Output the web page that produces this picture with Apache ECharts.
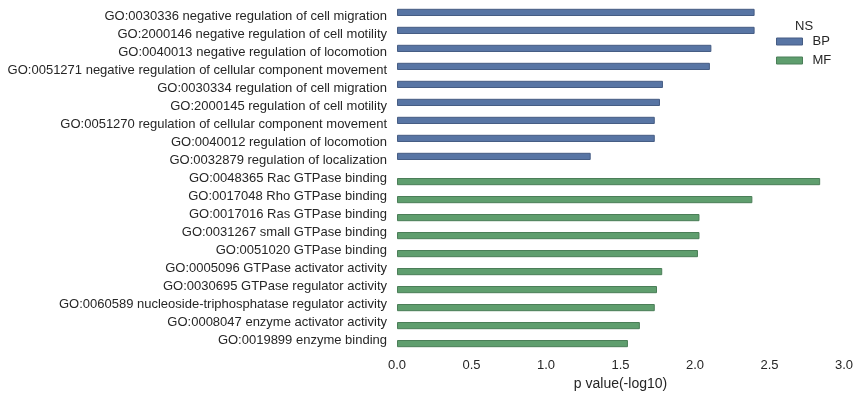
<!DOCTYPE html>
<html>
<head>
<meta charset="utf-8">
<script src="https://cdn.jsdelivr.net/npm/echarts@6/dist/echarts.min.js"></script>
<style>
  html, body { margin: 0; padding: 0; background: #fff; }
  #chart { width: 859px; height: 397px; }
</style>
</head>
<body>
<div id="chart"></div>
<script>
const bpTerms = [
  "GO:0030336 negative regulation of cell migration",
  "GO:2000146 negative regulation of cell motility",
  "GO:0040013 negative regulation of locomotion",
  "GO:0051271 negative regulation of cellular component movement",
  "GO:0030334 regulation of cell migration",
  "GO:2000145 regulation of cell motility",
  "GO:0051270 regulation of cellular component movement",
  "GO:0040012 regulation of locomotion",
  "GO:0032879 regulation of localization",
]
const bpValues = [2.40, 2.40, 2.11, 2.10, 1.785, 1.765, 1.73, 1.73, 1.30]

const mfTerms = [
  "GO:0048365 Rac GTPase binding",
  "GO:0017048 Rho GTPase binding",
  "GO:0017016 Ras GTPase binding",
  "GO:0031267 small GTPase binding",
  "GO:0051020 GTPase binding",
  "GO:0005096 GTPase activator activity",
  "GO:0030695 GTPase regulator activity",
  "GO:0060589 nucleoside-triphosphatase regulator activity",
  "GO:0008047 enzyme activator activity",
  "GO:0019899 enzyme binding",
]
const mfValues = [2.84, 2.385, 2.03, 2.03, 2.02, 1.78, 1.745, 1.73, 1.63, 1.55]

const xTicks = [0, 0.5, 1, 1.5, 2, 2.5, 3]

const categories = bpTerms.concat(mfTerms)
const bpData = categories.map((c, i) => (i < bpTerms.length ? bpValues[i] : null))
const mfData = categories.map((c, i) => (i >= bpTerms.length ? mfValues[i - bpTerms.length] : null))

const font = "'Liberation Sans', Arial, sans-serif"
const textColor = "#262626"

let myChart = echarts.init(document.getElementById("chart"), null, { renderer: "canvas" })

myChart.setOption({
  animation: false,
  backgroundColor: "#fff",
  title: {
    text: "NS",
    left: 795,
    top: 20,
    padding: 0,
    textStyle: { fontFamily: font, fontSize: 13, fontWeight: "normal", color: textColor },
  },
  legend: {
    orient: "vertical",
    left: 776,
    top: 34,
    padding: 0,
    icon: "rect",
    itemWidth: 26,
    itemHeight: 7,
    itemGap: 4,
    data: ["BP", "MF"],
    itemStyle: { borderWidth: 1 },
    textStyle: { fontFamily: font, fontSize: 13, color: textColor, lineHeight: 15, padding: [0, 0, 0, 5] },
  },
  grid: {
    left: 397,
    top: 7,
    width: 447,
    height: 342,
    containLabel: false,
    outerBoundsMode: "none",
  },
  xAxis: {
    type: "value",
    min: xTicks[0],
    max: xTicks[xTicks.length - 1],
    interval: 0.5,
    name: "p value(-log10)",
    nameLocation: "middle",
    nameGap: 28,
    nameTextStyle: { fontFamily: font, fontSize: 14, color: textColor },
    axisLine: { show: false },
    axisTick: { show: false },
    splitLine: { show: false },
    axisLabel: {
      fontFamily: font,
      fontSize: 13,
      color: textColor,
      margin: 10,
      formatter: (v) => v.toFixed(1),
    },
  },
  yAxis: {
    type: "category",
    inverse: true,
    data: categories,
    axisLine: { show: false },
    axisTick: { show: false },
    splitLine: { show: false },
    axisLabel: { fontFamily: font, fontSize: 13, color: textColor, margin: 10 },
  },
  series: [
    {
      name: "BP",
      type: "bar",
      data: bpData,
      barWidth: "40%",
      barGap: "0%",
      itemStyle: { color: "#5875a4", borderColor: "#465d84", borderWidth: 1 },
    },
    {
      name: "MF",
      type: "bar",
      data: mfData,
      barWidth: "40%",
      barGap: "0%",
      itemStyle: { color: "#5f9e6e", borderColor: "#4b7e58", borderWidth: 1 },
    },
  ],
})

window.addEventListener("resize", () => {
  myChart.resize()
})
</script>
</body>
</html>
